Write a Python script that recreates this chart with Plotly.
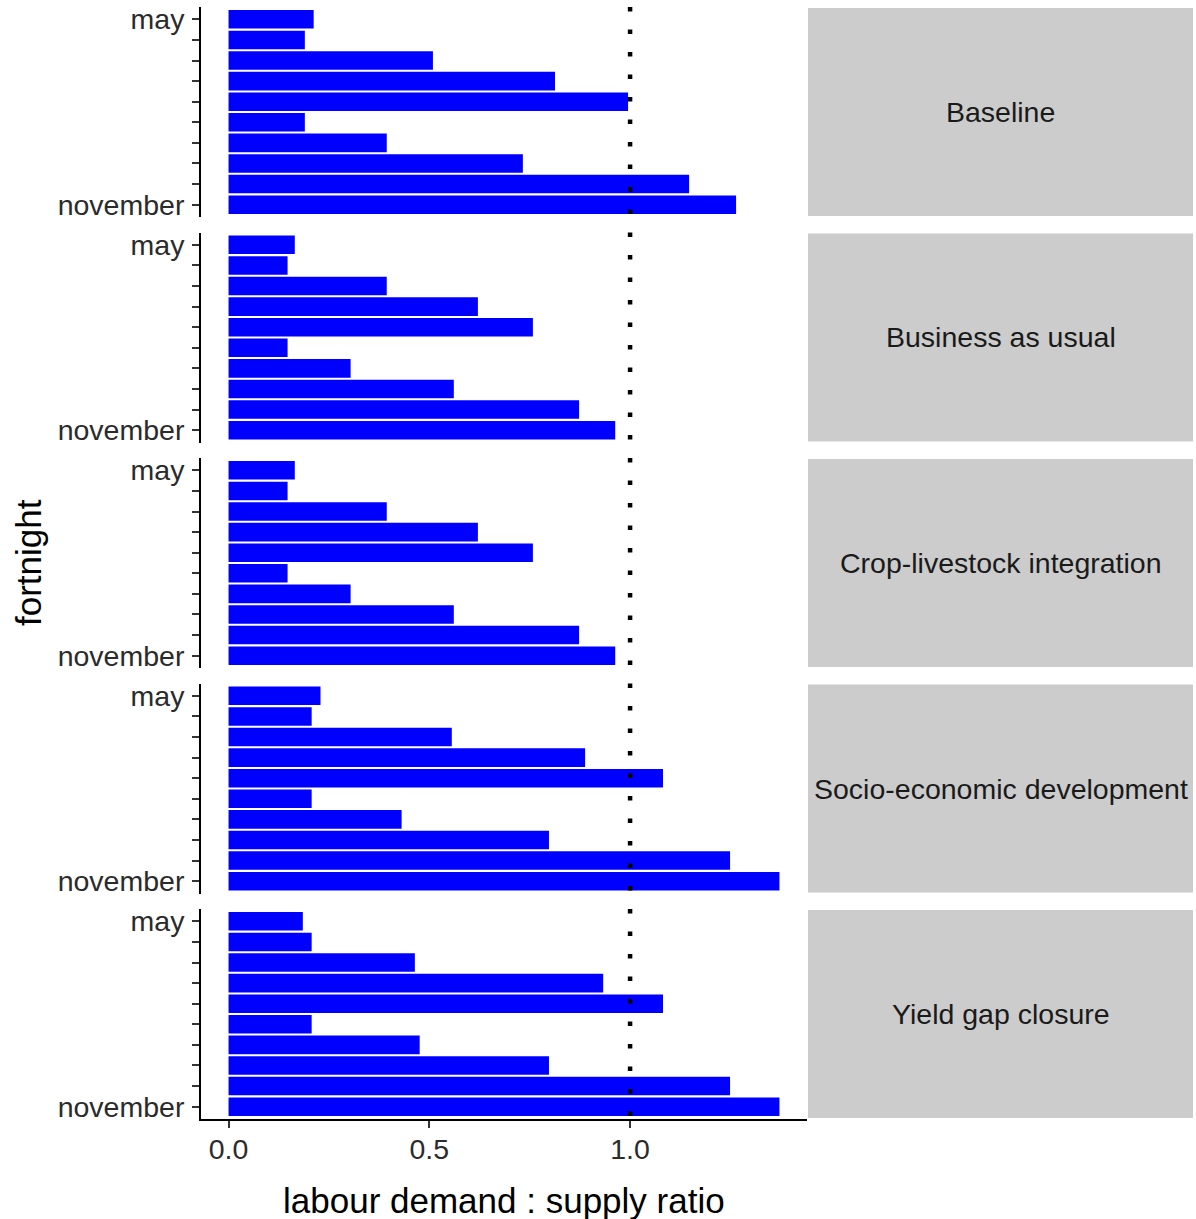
import plotly.graph_objects as go

# ---------------- data ----------------
scenarios = ["Baseline", "Business as usual", "Crop-livestock integration",
             "Socio-economic development", "Yield gap closure"]
tick_labels = ["may", "", "", "", "", "", "", "", "", "november"]

baseline = [0.212, 0.190, 0.509, 0.813, 0.995, 0.190, 0.394, 0.733, 1.147, 1.264]
business_as_usual = [0.165, 0.147, 0.394, 0.621, 0.758, 0.147, 0.304, 0.561, 0.873, 0.963]
crop_livestock = [0.165, 0.147, 0.394, 0.621, 0.758, 0.147, 0.304, 0.561, 0.873, 0.963]
socio_economic = [0.229, 0.207, 0.556, 0.888, 1.082, 0.207, 0.431, 0.798, 1.249, 1.372]
yield_gap = [0.185, 0.207, 0.464, 0.933, 1.082, 0.207, 0.476, 0.798, 1.249, 1.372]
series = [baseline, business_as_usual, crop_livestock, socio_economic, yield_gap]

x_ticks = [0.0, 0.5, 1.0]
x_tick_text = ["0.0", "0.5", "1.0"]
ref_ratio = 1.0

# ---------------- layout geometry ----------------
W, H = 1196, 1219
FONT = "Liberation Sans, Arial, sans-serif"
plot_left, plot_right = 201, 807
strip_left, strip_right = 808, 1193
panel_top0, panel_h, panel_step = 7, 210, 225.5

fig = go.Figure()
layout = dict(
    width=W, height=H, margin=dict(l=0, r=0, t=0, b=0, autoexpand=False),
    paper_bgcolor="white", plot_bgcolor="white", showlegend=False,
    font=dict(family=FONT, color="#333333"),
    bargap=0.1,
)

positions = list(range(len(tick_labels)))
vmax = max(max(s) for s in series + [[ref_ratio]])
xr = [-0.05 * vmax, 1.05 * vmax]

shapes = []
annotations = []
for i, (name, vals) in enumerate(zip(scenarios, series)):
    yname = "y" if i == 0 else f"y{i+1}"
    axname = "yaxis" if i == 0 else f"yaxis{i+1}"
    top = panel_top0 + i * panel_step
    bot = top + panel_h
    dom = [1 - bot / H, 1 - top / H]
    fig.add_trace(go.Bar(
        x=vals, y=positions, orientation="h", xaxis="x", yaxis=yname,
        marker=dict(color="#0000FF", line=dict(width=0)), width=0.9,
        hovertemplate=name + ": %{x}<extra></extra>",
    ))
    layout[axname] = dict(
        domain=dom, range=[len(positions) - 0.4, -0.6],
        tickmode="array", tickvals=positions, ticktext=tick_labels,
        showline=True, linecolor="black", linewidth=1.8,
        ticks="outside", ticklen=7, tickwidth=1.8, tickcolor="#333333",
        tickfont=dict(size=28.5, color="#2b2b2b", family=FONT),
        ticklabelstandoff=2,
        showgrid=False, zeroline=False, anchor="x", fixedrange=True,
    )
    # dotted reference line in each panel
    shapes.append(dict(
        type="line", xref="x", yref=f"{yname} domain",
        x0=ref_ratio, x1=ref_ratio, y0=1, y1=0,
        line=dict(color="black", width=4.5, dash="4.5px,18px"), layer="above",
    ))
    # strip
    shapes.append(dict(
        type="rect", xref="paper", yref="paper",
        x0=strip_left / W, x1=strip_right / W,
        y0=1 - (bot - 1) / H, y1=1 - (top + 1) / H,
        fillcolor="#CCCCCC", line=dict(width=0), layer="below",
    ))
    annotations.append(dict(
        x=(strip_left + strip_right) / 2 / W, y=1 - (top + bot) / 2 / H,
        xref="paper", yref="paper", text=name, showarrow=False,
        xanchor="center", yanchor="middle",
        font=dict(size=28.5, color="#1A1A1A", family=FONT),
    ))

layout["xaxis"] = dict(
    domain=[plot_left / W, plot_right / W], range=xr, anchor="y5",
    tickmode="array", tickvals=x_ticks, ticktext=x_tick_text,
    showline=True, linecolor="black", linewidth=1.8,
    ticks="outside", ticklen=7, tickwidth=1.8, tickcolor="#333333",
    tickfont=dict(size=28.5, color="#2b2b2b", family=FONT),
    ticklabelstandoff=-3,
    showgrid=False, zeroline=False, fixedrange=True,
)

annotations.append(dict(
    x=(plot_left + plot_right) / 2 / W, y=1 - 1200 / H, xref="paper", yref="paper",
    text="labour demand : supply ratio", showarrow=False,
    xanchor="center", yanchor="middle", font=dict(size=35, color="black", family=FONT),
))
annotations.append(dict(
    x=28 / W, y=1 - 563 / H, xref="paper", yref="paper",
    text="fortnight", showarrow=False, textangle=-90,
    xanchor="center", yanchor="middle", font=dict(size=35, color="black", family=FONT),
))

layout["shapes"] = shapes
layout["annotations"] = annotations
fig.update_layout(**layout)
fig.write_html(
    "out.html",
    config={"displayModeBar": False},
    post_script="document.body.style.margin='0';document.body.style.overflow='hidden';",
)
